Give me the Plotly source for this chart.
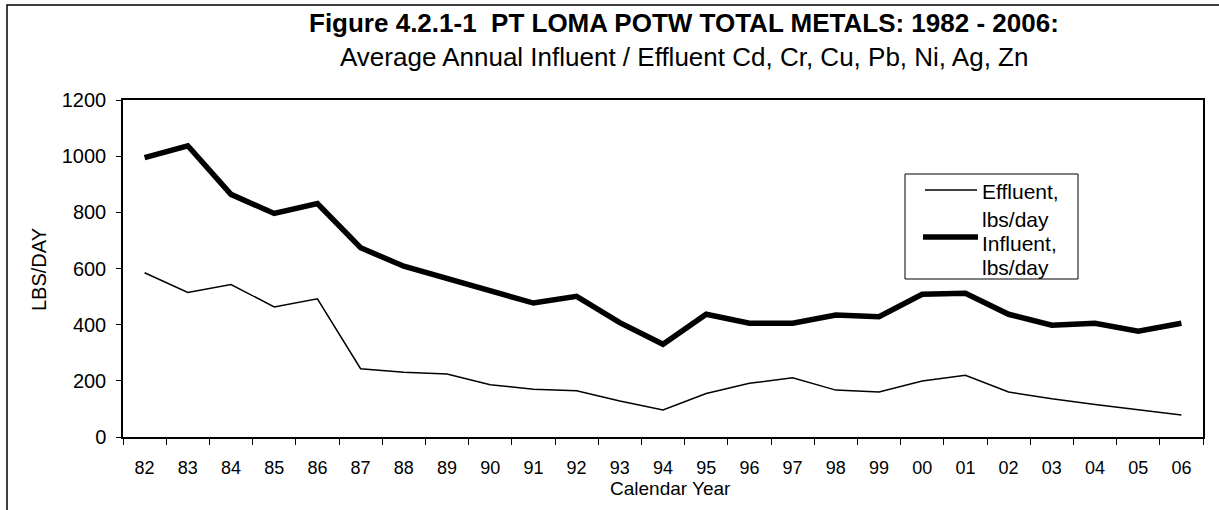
import plotly.graph_objects as go

# Calendar years 1982-2006, shown as two-digit labels
years = ["82", "83", "84", "85", "86", "87", "88", "89", "90", "91", "92", "93",
         "94", "95", "96", "97", "98", "99", "00", "01", "02", "03", "04", "05", "06"]

# Average annual total metals, lbs/day
influent = [995, 1037, 864, 796, 831, 674, 608, 563, 519, 477, 501, 407,
            330, 437, 405, 405, 434, 428, 508, 512, 437, 398, 405, 377, 405]
effluent = [585, 515, 543, 463, 492, 243, 231, 224, 186, 170, 165, 128,
            96, 155, 191, 211, 167, 160, 199, 220, 160, 136, 116, 96, 78]

W, H = 1219, 510
L, R, T, B = 123, 1203, 100, 437  # plot area in pixels
FONT = "Liberation Sans, Arial, sans-serif"


def px(x):
    return (x - L) / (R - L)


def py(y):
    return (B - y) / (B - T)


fig = go.Figure()
fig.add_trace(go.Scatter(x=years, y=effluent, mode="lines", name="Effluent, lbs/day",
                         line=dict(color="black", width=1.5)))
fig.add_trace(go.Scatter(x=years, y=influent, mode="lines", name="Influent, lbs/day",
                         line=dict(color="black", width=5.5)))

fig.update_layout(
    width=W, height=H,
    margin=dict(l=L, r=W - R, t=T, b=H - B, pad=0),
    paper_bgcolor="white", plot_bgcolor="white",
    showlegend=False,
    font=dict(family=FONT, color="black", size=18),
)

fig.update_xaxes(
    type="category", range=[-0.5, len(years) - 0.5], tickson="boundaries",
    ticks="outside", ticklen=6, tickcolor="black", showline=True,
    linecolor="black", linewidth=1.5, mirror=True, showgrid=False,
    tickfont=dict(size=18), ticklabelstandoff=14,
)
fig.update_yaxes(
    range=[0, 1200], dtick=200, ticks="outside", ticklen=5, tickcolor="black",
    showline=True, linecolor="black", linewidth=1.5, mirror=True,
    showgrid=False, zeroline=False, tickfont=dict(size=20), ticklabelstandoff=6,
)

# Outer figure frame
fig.add_shape(type="rect", xref="paper", yref="paper",
              x0=px(7), x1=px(W + 20), y0=py(H + 20), y1=py(5),
              line=dict(color="black", width=1.5))

# Titles
fig.add_annotation(text="<b>Figure 4.2.1-1  PT LOMA POTW TOTAL METALS: 1982 - 2006:</b>",
                   xref="paper", yref="paper", x=px(684), y=py(23),
                   showarrow=False, font=dict(size=26), xanchor="center", yanchor="middle")
fig.add_annotation(text="Average Annual Influent / Effluent Cd, Cr, Cu, Pb, Ni, Ag, Zn",
                   xref="paper", yref="paper", x=px(684), y=py(57),
                   showarrow=False, font=dict(size=26), xanchor="center", yanchor="middle")

# Axis titles
fig.add_annotation(text="LBS/DAY", xref="paper", yref="paper", x=px(39), y=py(270),
                   textangle=-90, showarrow=False, font=dict(size=20),
                   xanchor="center", yanchor="middle")
fig.add_annotation(text="Calendar Year", xref="paper", yref="paper", x=px(670), y=py(488),
                   showarrow=False, font=dict(size=19), xanchor="center", yanchor="middle")

# Legend box with line samples
fig.add_shape(type="rect", xref="paper", yref="paper",
              x0=px(905), x1=px(1078), y0=py(279), y1=py(174),
              line=dict(color="black", width=1), fillcolor="white")
fig.add_shape(type="line", xref="paper", yref="paper",
              x0=px(925), x1=px(977), y0=py(190), y1=py(190),
              line=dict(color="black", width=1.5))
fig.add_shape(type="line", xref="paper", yref="paper",
              x0=px(923), x1=px(978), y0=py(237), y1=py(237),
              line=dict(color="black", width=5.5))
for label, yy in [("Effluent,", 191), ("lbs/day", 219), ("Influent,", 243), ("lbs/day", 267)]:
    fig.add_annotation(text=label, xref="paper", yref="paper", x=px(980), y=py(yy),
                       showarrow=False, font=dict(size=21), xanchor="left", yanchor="middle")

fig.write_html("out.html")
